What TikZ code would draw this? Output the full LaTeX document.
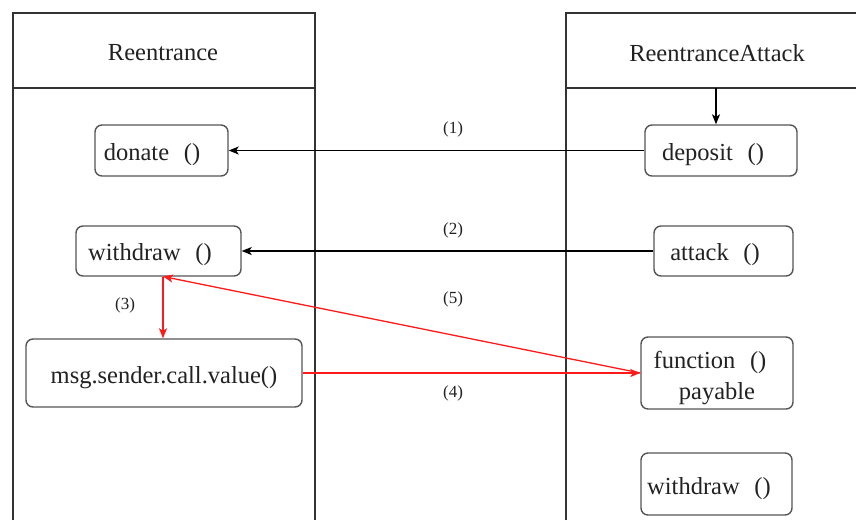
\documentclass[tikz,border=0pt]{standalone}
\usepackage{fontspec}
\setmainfont{Liberation Serif}
\newfontfamily\tnr{Liberation Serif}
\usetikzlibrary{arrows.meta}
\definecolor{ln}{HTML}{333333}
\definecolor{bx}{HTML}{555555}
\definecolor{tx}{HTML}{222222}
\definecolor{rd}{HTML}{FF1A1A}
\begin{document}
\begin{tikzpicture}[x=1pt,y=-1pt,
  fbox/.style={draw=bx,line width=1.4pt,rounded corners=7pt,inner sep=0pt},
  ftext/.style={text=tx,font=\tnr\fontsize{24.5}{28}\selectfont,inner sep=0pt,anchor=center},
  lab/.style={text=tx,font=\tnr\fontsize{17}{20}\selectfont,inner sep=0pt},
  life/.style={draw=ln,line width=1.2pt},
  blk/.style={draw=black,line width=1.2pt,-{Stealth[length=10pt,width=8pt,inset=2.5pt]}},
  red/.style={draw=rd,line width=1.3pt,-{Stealth[length=10pt,width=8pt,inset=2.5pt]}}]
\useasboundingbox (0,0) rectangle (856,520);
\fill[white] (0,0) rectangle (856,520);
% lifelines
\draw[life] (13,520) -- (13,13) -- (315,13) -- (315,520);
\draw[life] (13,88) -- (315,88);
\draw[life] (566,520) -- (566,13) -- (856,13);
\draw[life] (566,88) -- (856,88);
\node[ftext] (h1) at (163,53) {Reentrance};
\node[ftext] (h2) at (717,53) {ReentranceAttack};
\coordinate (hd) at (716,88);
% boxes
\node[fbox,minimum width=133pt,minimum height=51pt] (donate) at (161.5,150.5) {};
\node[ftext] at (152,155) {donate\hspace{0.6em}()};
\node[fbox,minimum width=152pt,minimum height=51pt] (deposit) at (721,150.5) {};
\node[ftext] at (713,155) {deposit\hspace{0.6em}()};
\node[fbox,minimum width=165pt,minimum height=50pt] (wd) at (158.5,251) {};
\node[ftext] at (150,255) {withdraw\hspace{0.6em}()};
\node[fbox,minimum width=139pt,minimum height=50pt] (attack) at (723.5,251) {};
\node[ftext] at (715,255) {attack\hspace{0.6em}()};
\node[fbox,minimum width=276pt,minimum height=68pt] (msg) at (164,373) {};
\node[ftext] at (164,378) {msg.sender.call.value()};
\node[fbox,minimum width=152pt,minimum height=72pt] (fn) at (717,373) {};
\node[ftext] at (710,362) {function\hspace{0.6em}()};
\node[ftext] at (717,394) {payable};
\node[fbox,minimum width=151pt,minimum height=62pt] (wd2) at (716.5,484) {};
\node[ftext] at (709,489) {withdraw\hspace{0.6em}()};
% connectors
\draw[blk] (hd) -- (hd |- deposit.north);
\draw[blk] (deposit.west) -- (donate.east);
\draw[blk] (attack.west) -- (wd.east);
\coordinate (wdb) at (163,276.5);
\draw[red] (wdb) -- (msg.north -| wdb);
\draw[red] (fn.west) -- (wdb);
\draw[red] (msg.east) -- (fn.west |- msg.east);
% labels
\node[lab] (l1) at (453,129) {(1)};
\node[lab] (l2) at (453,230) {(2)};
\node[lab] (l3) at (125,305) {(3)};
\node[lab] (l5) at (453,299) {(5)};
\node[lab] (l4) at (453,393) {(4)};
\end{tikzpicture}
\end{document}
